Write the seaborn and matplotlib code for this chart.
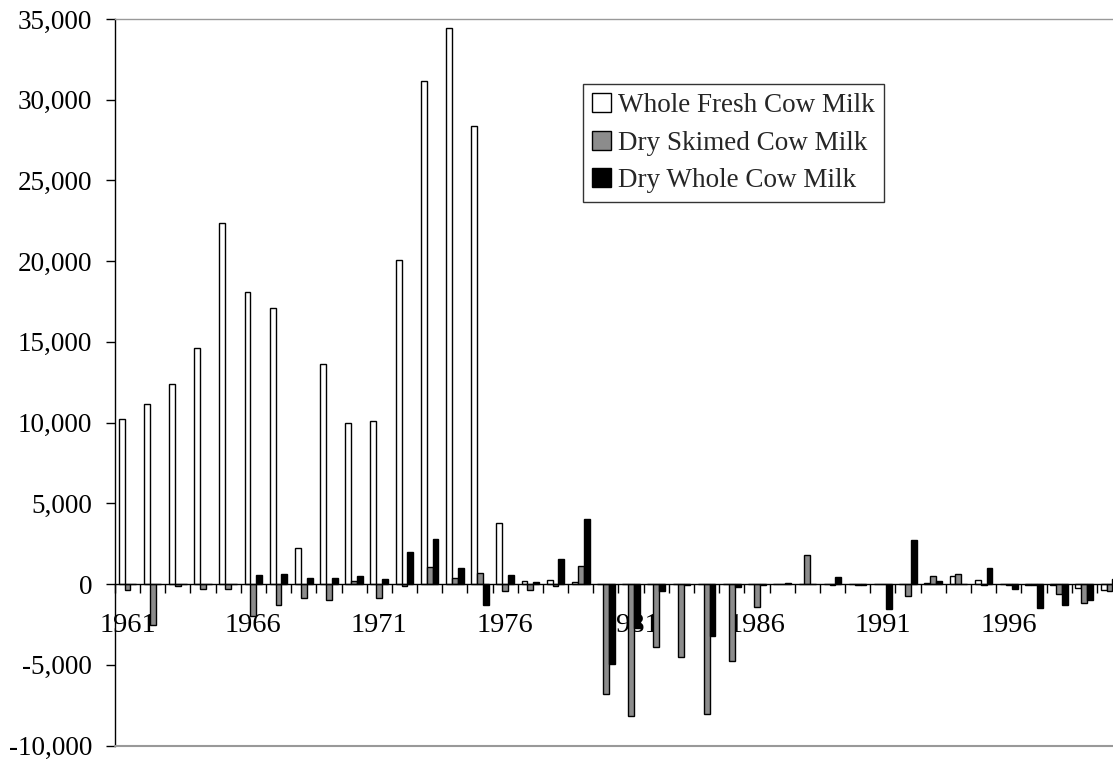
import numpy as np
import pandas as pd
import matplotlib
matplotlib.use("Agg")
import matplotlib.pyplot as plt
import matplotlib.ticker as mticker
from matplotlib.patches import Patch
import seaborn as sns

years = list(range(1961, 2001))
series_names = ["Whole Fresh Cow Milk", "Dry Skimed Cow Milk", "Dry Whole Cow Milk"]

whole_fresh = [10250, 11150, 12400, 14650, 22350, 18100, 17100, 2250, 13600, 10000,
               10100, 20050, 31150, 34450, 28350, 3800, 180, 280, 100, 30,
               30, 30, 30, 30, 30, 30, 30, 30, 30, 30,
               20, 20, 40, 470, 230, -20, -30, -60, -250, -350]
dry_skim = [-350, -2560, -150, -290, -300, -1960, -1300, -890, -1000, 200,
            -890, -100, 1030, 370, 680, -450, -370, -100, 1110, -6820,
            -8180, -3900, -4510, -8020, -4780, -1400, 30, 1820, -40, -30,
            -20, -740, 470, 600, -30, -30, -60, -620, -1180, -450]
dry_whole = [0, 0, 0, 0, 0, 580, 600, 390, 370, 470,
             330, 1980, 2780, 990, -1300, 580, 100, 1530, 4020, -4970,
             -2700, -410, -50, -3220, -190, -30, 60, -20, 430, -60,
             -1570, 2700, 160, -20, 990, -290, -1460, -1280, -1000, 300]

y_ticks = list(range(-10000, 35001, 5000))
label_years = list(range(1961, 2000, 5))

colors = ["#ffffff", "#8c8c8c", "#000000"]

df = pd.DataFrame({
    "year": [str(y) for y in years] * 3,
    "value": whole_fresh + dry_skim + dry_whole,
    "series": [series_names[0]] * len(years) + [series_names[1]] * len(years) + [series_names[2]] * len(years),
})

sns.set_style("white")
plt.rcParams["font.family"] = ["Liberation Serif", "DejaVu Serif"]
plt.rcParams["axes.unicode_minus"] = False

fig = plt.figure(figsize=(11.13, 7.64), dpi=100)
ax = fig.add_axes([0.10323, 0.02421, 0.9049, 0.95092])

sns.barplot(data=df, x="year", y="value", hue="series", order=[str(y) for y in years],
            hue_order=series_names, palette=colors, width=0.7, errorbar=None,
            edgecolor="black", linewidth=1.0, legend=False, ax=ax, saturation=1)

ax.set_xlim(-0.5, len(years) - 0.5)
ax.set_ylim(-10000, 35000)
ax.set_yticks(y_ticks)
ax.yaxis.set_major_formatter(mticker.StrMethodFormatter("{x:,.0f}"))
ax.tick_params(axis="y", which="major", direction="out", length=6.3, width=1,
               pad=10, labelsize=19.5, colors="black", left=True)

# x axis at zero
ax.spines["bottom"].set_position(("data", 0))
ax.spines["bottom"].set_color("black")
ax.spines["bottom"].set_linewidth(1)
ax.spines["left"].set_color("black")
ax.spines["left"].set_linewidth(1)
ax.spines["top"].set_color("#999999")
ax.spines["top"].set_linewidth(1)
ax.spines["right"].set_color("#999999")
ax.axhline(-10000, color="#999999", lw=1.5, zorder=3, clip_on=False)

ax.set_xticks([years.index(y) for y in label_years])
ax.set_xticklabels([str(y) for y in label_years])
ax.set_xticks(np.arange(-0.5, len(years), 1.0), minor=True)
ax.tick_params(axis="x", which="major", length=0, pad=20.5, labelsize=20.5, colors="black")
ax.tick_params(axis="x", which="minor", direction="out", length=6.3, width=1, color="black", bottom=True)
ax.set_xlabel("")
ax.set_ylabel("")
ax.set_axisbelow(True)

handles = [Patch(facecolor=c, edgecolor="black", linewidth=1.0) for c in colors]
leg = ax.legend(handles, series_names, loc="upper left", bbox_to_anchor=(0.4648, 0.9105),
                borderaxespad=0, fancybox=False, frameon=True, fontsize=19.5,
                handlelength=0.7, handleheight=0.7, handletextpad=0.28,
                labelspacing=0.47, borderpad=0.33)
leg.get_frame().set_edgecolor("black")
leg.get_frame().set_linewidth(1)

fig.savefig("out.png", dpi=100)
